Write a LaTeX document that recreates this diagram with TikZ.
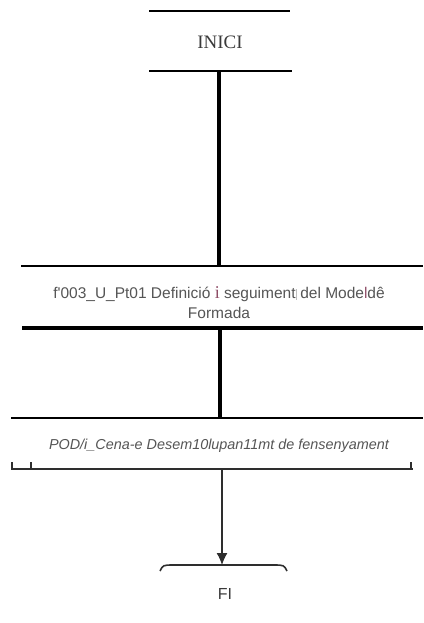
\documentclass[tikz,border=0pt]{standalone}
\usepackage{fontspec}
\setmainfont{Liberation Sans}
\newfontfamily\serifface{Liberation Serif}
\usepackage{tikz}
\usetikzlibrary{%
  calc,%
  arrows.meta%
}
\definecolor{inkgray}{HTML}{3A3A3A}
\definecolor{textgray}{HTML}{555555}
\definecolor{bargray}{HTML}{2E2E2E}
\definecolor{mauve}{HTML}{8E4D66}

\begin{document}
\begin{tikzpicture}[x=1pt,y=-1pt,
  rule/.style={line width=2.4pt,black},
  thickrule/.style={line width=3.2pt,black},
  bar/.style={line width=1.5pt,bargray},
  lbl/.style={inner sep=0pt,text=textgray,align=center,font=\fontsize{15.5}{20}\selectfont}]
\useasboundingbox (0,0) rectangle (423,623);

% start
\draw[rule] (149,11) -- (290,11);
\node[inner sep=0pt,text=inkgray,font=\serifface\fontsize{19}{20}\selectfont] (inici) at (220,42) {INICI};
\draw[rule] (149,71) -- (292,71);
\coordinate (iniciB) at (219,71);

% first step
\coordinate (defT) at (219,266);
\draw[thickrule] (iniciB) -- (defT);
\draw[line width=2.2pt] (21,266) -- (423,266);
\node[lbl] (def) at (219,303) {f\textquotesingle 003\_U\_Pt01 Definició {\serifface\fontsize{18}{20}\selectfont\textcolor{mauve}{i}} seguiment{\color{lightgray}\rule[-1pt]{0.4pt}{11pt}} del Mode\textcolor{mauve}{l}dê\\Formada};
\draw[thickrule] (22,328) -- (423,328);
\coordinate (defB) at (220,328);

% second step
\coordinate (podT) at (220,418);
\draw[thickrule] (defB) -- (podT);
\draw[line width=2.6pt] (11,418) -- (423,418);
\node[lbl,font=\itshape\fontsize{14.4}{16}\selectfont] (pod) at (219,446) {POD/i\_Cena-e Desem10lupan11mt de fensenyament};
\draw[bar] (11,469) -- (413,469);
\draw[bar] (12,462) -- (12,469);
\draw[bar] (31,462) -- (31,469);
\draw[bar] (411,462) -- (411,469);
\coordinate (podB) at (222,469);

% end
\coordinate (fiT) at (222,565);
\draw[line width=1.3pt,bargray,-{Latex[length=12pt,width=11pt]}] (podB) -- (fiT);
\draw[line width=1.6pt,bargray] (160,571) .. controls (163,565) .. (174,565) -- (273,565) .. controls (284,565) .. (287,571);
\node[inner sep=0pt,text=inkgray,font=\fontsize{16}{18}\selectfont] (fi) at (225,594) {FI};
\end{tikzpicture}
\end{document}
